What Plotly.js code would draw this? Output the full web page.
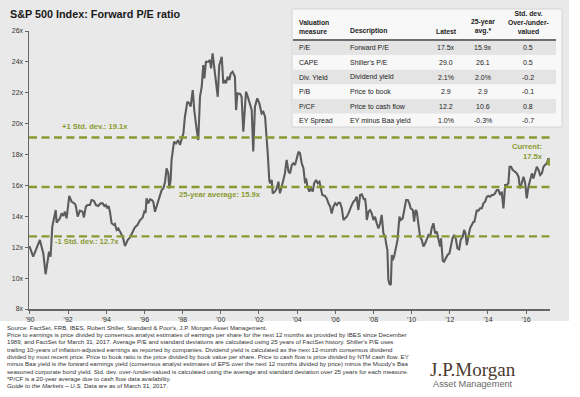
<!DOCTYPE html>
<html>
<head>
<meta charset="utf-8">
<script src="https://cdn.plot.ly/plotly-3.0.1.min.js"></script>
<style>html,body{margin:0;padding:0;background:#fff;}#chart{width:580px;height:397px;}</style>
</head>
<body>
<div id="chart"></div>
<script>
// ---- Data ----
const years = [1989.97,1990.17,1990.52,1990.70,1990.82,1991.00,1991.08,1991.17,1991.35,1991.40,1991.57,1991.66,1991.75,1991.83,1991.92,1992.06,1992.18,1992.36,1992.41,1992.50,1992.62,1992.76,1992.83,1992.93,1993.02,1993.14,1993.23,1993.35,1993.46,1993.58,1993.70,1993.81,1993.90,1993.98,1994.05,1994.12,1994.19,1994.28,1994.40,1994.45,1994.54,1994.63,1994.72,1994.86,1994.98,1995.12,1995.24,1995.38,1995.50,1995.63,1995.77,1995.90,1995.99,1996.06,1996.11,1996.20,1996.29,1996.38,1996.46,1996.55,1996.64,1996.73,1996.81,1996.90,1996.99,1997.08,1997.16,1997.25,1997.30,1997.37,1997.42,1997.48,1997.55,
1997.65,1997.77,1997.86,1997.95,1998.04,1998.12,1998.25,1998.35,1998.42,1998.53,1998.61,1998.74,1998.82,1998.91,1999.00,1999.08,1999.14,1999.22,1999.35,1999.43,1999.49,1999.57,1999.66,1999.75,1999.84,1999.92,2000.05,2000.13,2000.22,2000.27,2000.36,2000.45,2000.52,2000.62,2000.74,2000.80,2000.87,2001.01,2001.09,2001.18,2001.32,2001.44,2001.53,2001.62,2001.70,2001.79,2001.91,2002.02,2002.14,2002.23,2002.32,2002.40,
2002.46,2002.54,2002.58,2002.67,2002.72,2002.84,2002.93,2003.02,2003.10,2003.19,2003.28,2003.36,2003.45,2003.55,
2003.63,2003.72,2003.80,2003.89,2003.98,2004.07,2004.15,2004.24,2004.33,2004.42,2004.47,2004.54,2004.64,2004.73,2004.82,2004.89,2004.99,2005.08,2005.17,2005.24,2005.32,2005.46,2005.55,2005.64,2005.73,2005.81,2005.90,2005.99,2006.08,2006.16,2006.25,2006.34,2006.43,2006.51,2006.60,2006.69,2006.77,2006.86,2006.95,2007.04,2007.12,2007.21,2007.30,2007.39,2007.44,2007.51,2007.56,2007.61,2007.65,2007.74,2007.82,2007.91,2008.00,2008.08,2008.17,2008.26,2008.35,2008.43,2008.52,2008.61,2008.66,2008.73,2008.78,2008.84,2008.91,2008.96,2009.01,2009.08,2009.19,2009.26,2009.36,2009.43,2009.53,2009.62,2009.71,2009.80,2009.88,2009.95,2010.06,2010.13,2010.20,2010.27,2010.36,2010.44,2010.53,2010.62,2010.71,2010.79,2010.88,2010.97,2011.05,2011.14,2011.23,2011.32,2011.40,2011.49,2011.54,2011.63,2011.70,2011.81,2011.88,2011.98,2012.05,2012.14,2012.23,2012.31,2012.40,2012.49,2012.57,2012.68,2012.75,2012.82,2012.89,2012.98,2013.06,2013.15,2013.24,2013.29,2013.36,2013.41,2013.50,2013.59,2013.68,2013.76,2013.85,2013.94,2014.02,2014.11,2014.20,2014.29,2014.37,2014.46,2014.55,2014.64,2014.72,2014.81,2014.90,2014.99,2015.07,2015.13,2015.21,2015.30,2015.42,2015.51,2015.60,2015.68,2015.77,2015.86,2015.95,2016.03,2016.12,2016.21,2016.30,2016.38,2016.47,2016.56,2016.65,2016.73,2016.82,2016.91,2016.99,2017.08,2017.17,2017.25];
const forwardPE = [12.08,11.39,12.47,11.60,10.25,11.71,11.39,13.33,14.41,13.59,13.87,14.19,14.02,14.30,13.87,15.32,14.95,14.80,14.63,13.98,14.37,14.30,13.93,14.63,14.73,14.73,15.06,15.01,14.73,14.67,14.84,14.84,14.67,14.73,14.52,14.67,14.30,13.55,13.44,13.50,13.12,13.22,13.01,12.68,12.08,12.47,12.64,13.01,13.29,13.44,13.76,13.91,14.30,14.24,15.16,14.84,15.10,15.06,14.95,14.30,14.63,15.06,15.38,15.70,15.81,16.24,17.11,16.78,15.81,16.35,17.65,18.40,18.83,
18.72,18.94,18.62,19.05,19.37,20.45,21.42,21.31,21.10,22.17,20.88,19.59,18.94,21.74,22.39,23.79,22.93,24.01,24.01,24.12,23.58,24.55,23.58,22.82,21.74,23.79,24.33,22.61,22.82,22.61,23.04,22.82,23.25,23.36,23.04,20.88,21.96,21.92,21.74,19.48,22.07,21.64,21.31,20.88,18.20,21.10,21.64,21.31,20.66,20.76,20.45,19.37,
18.08,16.35,16.14,16.35,15.49,15.60,15.81,16.24,15.49,15.92,16.35,16.78,17.65,16.89,
16.78,17.32,17.43,17.32,17.75,18.18,18.08,17.43,17.11,16.14,16.46,15.92,15.60,15.81,15.60,16.14,16.35,16.14,16.24,15.81,15.38,15.32,15.16,14.84,14.63,14.19,14.63,14.84,14.73,14.88,14.88,14.52,13.76,13.87,13.98,14.19,14.52,14.73,14.95,15.06,15.27,14.41,15.38,15.42,15.27,15.06,15.16,14.63,13.76,14.30,14.41,14.19,13.76,13.98,13.55,13.22,13.55,14.09,12.90,12.68,12.25,11.82,9.88,9.62,9.56,11.50,11.17,11.39,12.04,12.47,13.98,13.76,13.87,14.41,15.06,15.06,14.84,14.52,14.41,13.65,14.41,14.30,13.55,12.68,12.47,12.04,12.25,12.58,12.79,12.68,13.22,13.55,12.90,13.01,12.47,12.04,12.58,11.13,11.07,11.39,11.50,11.60,12.04,12.58,12.79,12.58,11.93,11.86,12.47,12.68,13.12,12.90,12.14,12.79,13.22,13.44,13.65,13.65,13.98,14.37,14.37,14.52,14.52,14.84,14.95,15.27,15.32,15.27,15.38,15.38,15.49,15.70,15.70,15.38,15.60,14.52,16.03,16.03,16.14,17.21,17.21,17.00,16.89,16.78,16.57,15.81,16.14,16.57,16.14,15.16,15.92,16.35,16.78,16.46,16.89,17.21,17.00,16.67,16.78,17.21,17.32,17.43,17.75,17.50];

const currentYear = [2017.25];
const currentPE = [17.5];
const avgPE = 15.9;
const plusOneSD = 19.1;
const minusOneSD = 12.7;

const tickYears = [1990,1992,1994,1996,1998,2000,2002,2004,2006,2008,2010,2012,2014,2016];
const tickLabels = ["'90","'92","'94","'96","'98","'00","'02","'04","'06","'08","'10","'12","'14","'16"];

const tableHeaders = [["Valuation","measure"],["Description"],["Latest"],["25-year","avg.*"],["Std. dev.","Over-/under-","valued"]];
const tableMeasures = ["P/E","CAPE","Div. Yield","P/B","P/CF","EY Spread"];
const tableDescriptions = ["Forward P/E","Shiller's P/E","Dividend yield","Price to book","Price to cash flow","EY minus Baa yield"];
const tableLatest = ["17.5x","29.0","2.1%","2.9","12.2","1.0%"];
const tableAvg = ["15.9x","26.1","2.0%","2.9","10.6","-0.3%"];
const tableStdDev = ["0.5","0.5","-0.2","-0.1","0.8","-0.7"];

const footnotes = [
  "Source: FactSet, FRB, IBES, Robert Shiller, Standard & Poor's, J.P. Morgan Asset Management.",
  "Price to earnings is price divided by consensus analyst estimates of earnings per share for the next 12 months as provided by IBES since December",
  "1989, and FactSet for March 31, 2017. Average P/E and standard deviations are calculated using 25 years of FactSet history. Shiller's P/E uses",
  "trailing 10-years of inflation-adjusted earnings as reported by companies. Dividend yield is calculated as the next 12-month consensus dividend",
  "divided by most recent price. Price to book ratio is the price divided by book value per share. Price to cash flow is price divided by NTM cash flow. EY",
  "minus Baa yield is the forward earnings yield (consensus analyst estimates of EPS over the next 12 months divided by price) minus the Moody's Baa",
  "seasoned corporate bond yield. Std. dev. over-/under-valued is calculated using the average and standard deviation over 25 years for each measure.",
  "*P/CF is a 20-year average due to cash flow data availability.",
  "<i>Guide to the Markets – U.S.</i> Data are as of March 31, 2017."
];

// ---- Layout helpers (pixel -> paper) ----
const W = 580, H = 397;
const M = {l: 29, r: 30, t: 31, b: 88};
const PW = W - M.l - M.r, PH = H - M.t - M.b;
const px = x => (x - M.l) / PW;
const py = y => (H - M.b - y) / PH;

const OLIVE = '#8a9a32';
const FONT = 'Arial, "Liberation Sans", sans-serif';

const shapes = [];
const annotations = [];

// gray panel background
shapes.push({type:'rect', xref:'paper', yref:'paper', x0:px(0), x1:px(569), y0:py(321), y1:py(0),
  fillcolor:'#e9e9e9', line:{width:0}, layer:'below'});

// table box
shapes.push({type:'rect', xref:'paper', yref:'paper', x0:px(292), x1:px(562), y0:py(127), y1:py(9),
  fillcolor:'#f8f8f8', line:{color:'#d4d4d4', width:1}, layer:'below'});
const rowTop = 40.5, rowH = 14.6;
tableMeasures.forEach((m, i) => {
  if (i % 2 === 0) {
    shapes.push({type:'rect', xref:'paper', yref:'paper', x0:px(293), x1:px(556),
      y0:py(rowTop + (i+1)*rowH), y1:py(rowTop + i*rowH), fillcolor:'#e4e4e4', line:{width:0}, layer:'below'});
  }
});
shapes.push({type:'line', xref:'paper', yref:'paper', x0:px(293), x1:px(556), y0:py(40), y1:py(40),
  line:{color:'#6e6e6e', width:2.2}});

// reference dashed lines
[plusOneSD, avgPE, minusOneSD].forEach(v => {
  shapes.push({type:'line', xref:'paper', yref:'y', x0:0, x1:1, y0:v, y1:v,
    line:{color:OLIVE, width:2.4, dash:'8px,4.5px'}});
});

// table headers
const colX = [297, 348, 446, 483, 528];
const colAnchor = ['left','left','center','center','center'];
tableHeaders.forEach((lines, c) => {
  annotations.push({xref:'paper', yref:'paper', x:px(colX[c]), y:py(37.5), xanchor:colAnchor[c], yanchor:'bottom',
    text:'<b>' + lines.join('<br>') + '</b>', showarrow:false, align:colAnchor[c],
    font:{family:FONT, size:6.8, color:'#222'}});
});
const cols = [tableMeasures, tableDescriptions, tableLatest, tableAvg, tableStdDev];
cols.forEach((col, c) => {
  col.forEach((t, i) => {
    annotations.push({xref:'paper', yref:'paper', x:px(colX[c]), y:py(rowTop + (i+0.5)*rowH), xanchor:colAnchor[c], yanchor:'middle',
      text:t, showarrow:false, font:{family:FONT, size:7, color:'#222'}});
  });
});

// line labels
const lblFont = {family:FONT, size:7.6, color:OLIVE};
annotations.push({xref:'paper', yref:'paper', x:px(60), y:py(127), xanchor:'left', yanchor:'middle',
  text:'<b>+1 Std. dev.: 19.1x</b>', showarrow:false, font:lblFont});
annotations.push({xref:'paper', yref:'paper', x:px(177), y:py(194), xanchor:'left', yanchor:'middle',
  text:'<b>25-year average: 15.9x</b>', showarrow:false, font:lblFont});
annotations.push({xref:'paper', yref:'paper', x:px(53), y:py(242), xanchor:'left', yanchor:'middle',
  text:'<b>-1 Std. dev.: 12.7x</b>', showarrow:false, font:lblFont});
annotations.push({xref:'paper', yref:'paper', x:px(545), y:py(151), xanchor:'right', yanchor:'middle',
  text:'<b>Current:<br>17.5x</b>', align:'right', showarrow:false, font:lblFont});

// footnotes
footnotes.forEach((t, i) => {
  annotations.push({xref:'paper', yref:'paper', x:px(5), y:py(327 + i*7.35), xanchor:'left', yanchor:'middle',
    text:t, showarrow:false, font:{family:FONT, size:6.1, color:'#333'}});
});

// logo text
annotations.push({xref:'paper', yref:'paper', x:px(473), y:py(369), xanchor:'center', yanchor:'middle',
  text:'J.P.Morgan', showarrow:false, font:{family:'"Liberation Serif", "DejaVu Serif", serif', size:19, color:'#4a3a30'}});
annotations.push({xref:'paper', yref:'paper', x:px(473), y:py(384), xanchor:'center', yanchor:'middle',
  text:'Asset Management', showarrow:false, font:{family:FONT, size:9.2, color:'#6a6a6a'}});

const traces = [
  {x: years, y: forwardPE, type:'scatter', mode:'lines', line:{color:'#5c5c5c', width:2.1}, hoverinfo:'skip'},
  {x: currentYear, y: currentPE, type:'scatter', mode:'markers', marker:{color:OLIVE, size:7}, hoverinfo:'skip'}
];

const layout = {
  width: W, height: H,
  margin: M,
  paper_bgcolor:'#ffffff', plot_bgcolor:'rgba(0,0,0,0)',
  showlegend:false,
  title:{text:'<b>S&P 500 Index: Forward P/E ratio</b>', x:10/W, xanchor:'left', y:1-14/H, yanchor:'middle',
    font:{family:FONT, size:10.8, color:'#1a1a1a'}},
  xaxis:{range:[1989.95, 2017.25], tickvals:tickYears, ticktext:tickLabels, ticks:'outside', ticklen:3, tickcolor:'#666',
    showline:true, linecolor:'#666', linewidth:1.5, showgrid:false, zeroline:false,
    tickfont:{family:FONT, size:7, color:'#333'}},
  yaxis:{range:[8, 26], dtick:2, tick0:8, ticksuffix:'x', ticks:'outside', ticklen:3, tickcolor:'#666',
    showline:true, linecolor:'#666', linewidth:1.5, showgrid:false, zeroline:false,
    tickfont:{family:FONT, size:7, color:'#333'}},
  shapes: shapes,
  annotations: annotations
};

Plotly.newPlot('chart', traces, layout, {displayModeBar:false, staticPlot:true});
</script>
</body>
</html>
